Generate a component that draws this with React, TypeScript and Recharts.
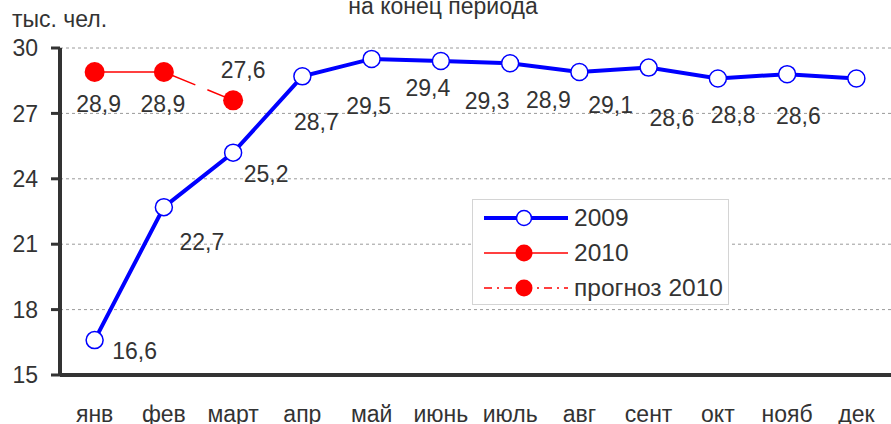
import React from 'react';
import {
  LineChart,
  Line,
  XAxis,
  YAxis,
  CartesianGrid,
  LabelList,
  Legend,
  Customized,
} from 'recharts';

const months = ['янв', 'фев', 'март', 'апр', 'май', 'июнь', 'июль', 'авг', 'сент', 'окт', 'нояб', 'дек'];
const values2009 = [16.6, 22.7, 25.2, 28.7, 29.5, 29.4, 29.3, 28.9, 29.1, 28.6, 28.8, 28.6];
const values2010: (number | null)[] = [28.9, 28.9, null, null, null, null, null, null, null, null, null, null];
const forecast2010: (number | null)[] = [null, 28.9, 27.6, null, null, null, null, null, null, null, null, null];
const yTicks = [15, 18, 21, 24, 27, 30];
const edgeTicks = [0, 1, 2, 3, 4, 5, 6, 7, 8, 9, 10, 11];

const titleText = 'на конец периода';
const unitText = 'тыс. чел.';

const data = months.map((m, i) => ({
  month: m,
  y2009: values2009[i],
  y2010: values2010[i],
  f2010: forecast2010[i],
}));

// label nudges (styling only)
const nudge2009 = [
  [40, 11], [38, 35], [33, 21], [14, 46], [-3, 47], [-13, 27],
  [-23, 38], [-31, 28], [-38, 37], [-46, 39], [-54, 41], [-58, 37],
];
const nudge2010 = [[4, 32], [-1, 32]];
const nudgeForecast = [10, -30];

const FONT = '"Liberation Sans", Arial, sans-serif';
const TXT = '#333';
const BLUE = '#0000ff';
const RED = '#ff0000';
const fmt = (v: number) => String(v).replace('.', ',');

const makeLabel = (nudges: number[][] | null, onlyIndex?: number, single?: number[]) => (props: any) => {
  const { x, y, value, index } = props;
  if (value == null) return null;
  if (onlyIndex !== undefined && index !== onlyIndex) return null;
  const n = single ? single : nudges ? nudges[index] || [0, 30] : [0, 30];
  return (
    <text
      x={x + n[0]}
      y={y + n[1]}
      textAnchor="middle"
      dominantBaseline="central"
      fontSize={23}
      fontFamily={FONT}
      fill={TXT}
    >
      {fmt(value)}
    </text>
  );
};

const forecastDot = (props: any) => {
  const { cx, cy, index } = props;
  if (index !== 2 || cy == null) return <g key={`fd-${index}`} />;
  return <circle key={`fd-${index}`} cx={cx} cy={cy} r={10} fill={RED} />;
};

const LegendBox = () => {
  const rows = [
    { name: '2009', kind: 'blue' },
    { name: '2010', kind: 'red' },
    { name: 'прогноз 2010', kind: 'dash' },
  ];
  return (
    <div
      style={{
        width: 257,
        height: 106,
        border: '1px solid #d4d4d4',
        background: '#fff',
        boxSizing: 'border-box',
        position: 'relative',
        fontFamily: FONT,
      }}
    >
      {rows.map((r, i) => (
        <div key={r.name} style={{ position: 'absolute', left: 10, top: 6 + i * 35, height: 24, display: 'flex', alignItems: 'center' }}>
          <svg width={86} height={24} style={{ display: 'block' }}>
            {r.kind === 'blue' && (
              <>
                <line x1={1} y1={12} x2={85} y2={12} stroke={BLUE} strokeWidth={4} />
                <circle cx={41} cy={12} r={7.5} fill="#fff" stroke={BLUE} strokeWidth={1.5} />
              </>
            )}
            {r.kind === 'red' && (
              <>
                <line x1={1} y1={12} x2={85} y2={12} stroke={RED} strokeWidth={1.5} />
                <circle cx={41} cy={12} r={8.5} fill={RED} />
              </>
            )}
            {r.kind === 'dash' && (
              <>
                <line x1={1} y1={12} x2={85} y2={12} stroke={RED} strokeWidth={1.5} strokeDasharray="8 5 2 5" />
                <circle cx={41} cy={12} r={8.5} fill={RED} />
              </>
            )}
          </svg>
          <span style={{ fontSize: 24.5, color: TXT, marginLeft: 5, lineHeight: '24px', whiteSpace: 'nowrap' }}>{r.name}</span>
        </div>
      ))}
    </div>
  );
};

const Titles = () => (
  <g fontFamily={FONT} fontSize={23} fill={TXT}>
    <text x={443} y={14} textAnchor="middle">{titleText}</text>
    <text x={12} y={27}>{unitText}</text>
  </g>
);

export default function App() {
  return (
    <div style={{ position: 'absolute', left: 0, top: 0, width: 891, height: 424, background: '#fff' }}>
      <LineChart
        width={891}
        height={424}
        data={data}
        margin={{ top: 48, right: 0, bottom: 0, left: 0 }}
      >
        <CartesianGrid horizontal vertical={false} stroke="#9a9a9a" strokeDasharray="3 3" />
        <XAxis
          xAxisId="edge"
          type="number"
          domain={[0, 12]}
          ticks={edgeTicks}
          tick={false}
          axisLine={false}
          tickLine={{ stroke: TXT, strokeWidth: 3 }}
          tickSize={8}
          height={0}
          allowDataOverflow
        />
        <XAxis
          dataKey="month"
          scale="band"
          interval={0}
          height={49}
          tickSize={0}
          tickMargin={31}
          tickLine={false}
          axisLine={{ stroke: TXT, strokeWidth: 4 }}
          tick={{ fontSize: 23, fill: TXT, fontFamily: FONT }}
        />
        <YAxis
          width={60}
          domain={[15, 30]}
          ticks={yTicks}
          interval={0}
          allowDataOverflow
          tickSize={9}
          tickMargin={13}
          tickLine={{ stroke: TXT, strokeWidth: 3 }}
          axisLine={{ stroke: TXT, strokeWidth: 4 }}
          tick={{ fontSize: 23, fill: TXT, fontFamily: FONT }}
        />
        <Legend
          layout="horizontal"
          verticalAlign="middle"
          content={<LegendBox />}
          wrapperStyle={{ position: 'absolute', left: 472, top: 199, width: 257, height: 106 }}
        />
        <Line
          dataKey="y2009"
          name="2009"
          stroke={BLUE}
          strokeWidth={4}
          dot={{ r: 8.5, fill: '#fff', stroke: BLUE, strokeWidth: 1.5 }}
          activeDot={false}
          isAnimationActive={false}
        >
          <LabelList dataKey="y2009" content={makeLabel(nudge2009)} />
        </Line>
        <Line
          dataKey="f2010"
          name="прогноз 2010"
          stroke={RED}
          strokeWidth={1.5}
          strokeDasharray="34 13"
          dot={forecastDot}
          activeDot={false}
          isAnimationActive={false}
        >
          <LabelList dataKey="f2010" content={makeLabel(null, 2, nudgeForecast)} />
        </Line>
        <Line
          dataKey="y2010"
          name="2010"
          stroke={RED}
          strokeWidth={1.5}
          dot={{ r: 10, fill: RED, stroke: 'none' }}
          activeDot={false}
          isAnimationActive={false}
        >
          <LabelList dataKey="y2010" content={makeLabel(nudge2010)} />
        </Line>
        <Customized component={Titles} />
      </LineChart>
    </div>
  );
}
